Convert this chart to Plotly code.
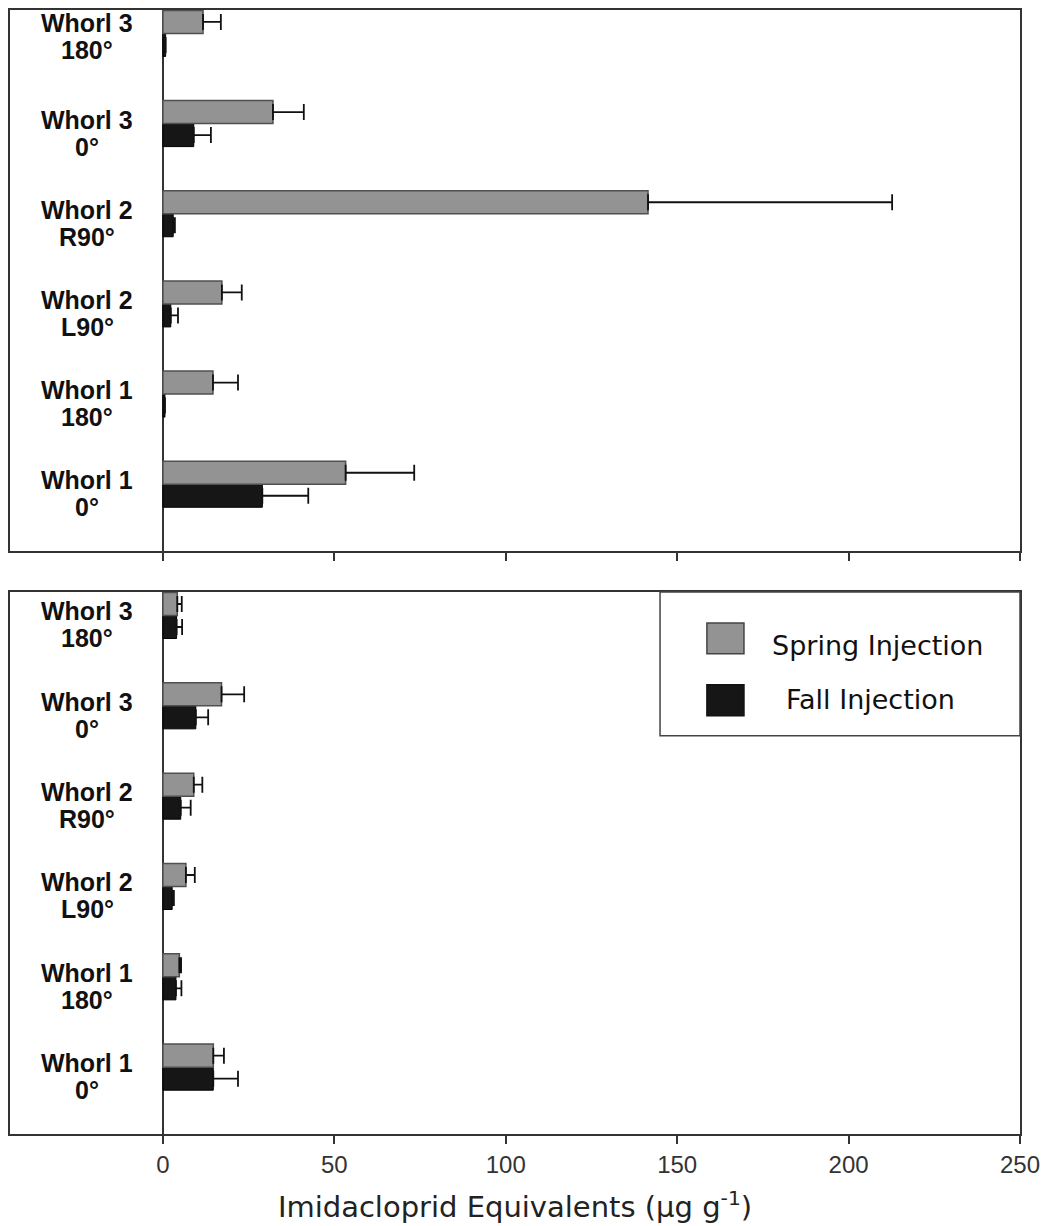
import plotly.graph_objects as go

# ---------------- data ----------------
categories = ["Whorl 1<br>0°", "Whorl 1<br>180°", "Whorl 2<br>L90°",
              "Whorl 2<br>R90°", "Whorl 3<br>0°", "Whorl 3<br>180°"]

top_spring = [53.3, 14.6, 17.2, 141.5, 32.1, 11.7]
top_spring_err = [20.0, 7.3, 5.8, 71.2, 9.0, 5.2]
top_fall = [29.0, 0.6, 2.3, 3.0, 9.0, 0.8]
top_fall_err = [13.4, 0.0, 2.1, 0.5, 5.0, 0.0]

bot_spring = [14.7, 4.8, 6.7, 9.0, 17.1, 4.2]
bot_spring_err = [3.1, 0.5, 2.6, 2.5, 6.6, 1.3]
bot_fall = [14.7, 3.8, 2.7, 5.2, 9.6, 4.0]
bot_fall_err = [7.2, 1.6, 0.5, 2.9, 3.6, 1.6]

x_ticks = [0, 50, 100, 150, 200, 250]
series_names = ["Spring Injection", "Fall Injection"]

SPRING_COLOR = "#939393"
FALL_COLOR = "#161616"
LINE = "#333333"

fig = go.Figure()


def add_panel(spring, spring_err, fall, fall_err, xa, ya):
    # fall first so it sits below spring within each group
    fig.add_trace(go.Bar(
        name=series_names[1], orientation="h", x=fall, y=categories,
        marker=dict(color=FALL_COLOR, line=dict(color="#000000", width=1)),
        error_x=dict(type="data", symmetric=False, array=fall_err,
                     arrayminus=[0] * len(fall_err), color="#111111",
                     thickness=1.8, width=8),
        xaxis=xa, yaxis=ya, showlegend=False))
    fig.add_trace(go.Bar(
        name=series_names[0], orientation="h", x=spring, y=categories,
        marker=dict(color=SPRING_COLOR, line=dict(color="#505050", width=1.5)),
        error_x=dict(type="data", symmetric=False, array=spring_err,
                     arrayminus=[0] * len(spring_err), color="#111111",
                     thickness=1.8, width=8),
        xaxis=xa, yaxis=ya, showlegend=False))


add_panel(top_spring, top_spring_err, top_fall, top_fall_err, "x", "y")
add_panel(bot_spring, bot_spring_err, bot_fall, bot_fall_err, "x2", "y2")

XR = [-44.6, 250]
YR = [-0.74, 5.26]

xcommon = dict(range=XR, tickmode="array", tickvals=x_ticks,
               ticks="outside", ticklen=8, tickwidth=2, tickcolor=LINE,
               showline=True, mirror=True, linecolor=LINE, linewidth=2,
               showgrid=False, zeroline=True, zerolinecolor=LINE,
               zerolinewidth=2, fixedrange=True)
ycommon = dict(range=YR, type="category", showticklabels=False, ticks="",
               showline=True, mirror=True, linecolor=LINE, linewidth=2,
               showgrid=False, zeroline=False, fixedrange=True)

fig.update_layout(
    width=1050, height=1226,
    margin=dict(l=10, r=30, t=8, b=92),
    paper_bgcolor="white", plot_bgcolor="white",
    barmode="group", bargap=0.49, bargroupgap=0,
    showlegend=False,
    font=dict(family="Liberation Sans, Arial, sans-serif", color="#222222"),
    xaxis=dict(**xcommon, anchor="y", domain=[0, 1], showticklabels=False),
    yaxis=dict(**ycommon, anchor="x", domain=[0.5187, 1.0]),
    xaxis2=dict(**xcommon, anchor="y2", domain=[0, 1], showticklabels=True,
                tickfont=dict(family="Liberation Sans, Arial, sans-serif",
                              size=24, color="#333333"),
                title=dict(text="Imidacloprid Equivalents (µg g<sup>-1</sup>)",
                           font=dict(family="DejaVu Sans, sans-serif", size=29,
                                     color="#222222"),
                           standoff=20)),
    yaxis2=dict(**ycommon, anchor="x2", domain=[0, 0.4822]),
)

# category labels inside each panel, left of the zero line (two lines each)
annotations = []
label_font = dict(family="Liberation Sans, Arial, sans-serif", size=25,
                  color="#111111", weight="bold")
for ya in ["y", "y2"]:
    xa = "x" if ya == "y" else "x2"
    for i, c in enumerate(categories):
        line1, line2 = c.split("<br>")
        extra = 6 if (ya == "y" and i == len(categories) - 1) else 0
        annotations.append(dict(x=-22.0, y=c, xref=xa, yref=ya, text=line1,
                                showarrow=False, align="center",
                                yshift=4 + extra, font=label_font))
        annotations.append(dict(x=-22.0, y=c, xref=xa, yref=ya, text=line2,
                                showarrow=False, align="center",
                                yshift=-23 + extra, font=label_font))

# legend (drawn in the lower panel, top-right corner)
shapes = [
    dict(type="rect", xref="paper", yref="paper", x0=0.6436, x1=1.0,
         y0=0.3544, y1=0.4822, line=dict(color="#444444", width=1.5),
         fillcolor="white", layer="above"),
    dict(type="rect", xref="paper", yref="paper", x0=0.690, x1=0.7267,
         y0=0.4272, y1=0.4547, line=dict(color="#444444", width=1.5),
         fillcolor=SPRING_COLOR, layer="above"),
    dict(type="rect", xref="paper", yref="paper", x0=0.690, x1=0.7267,
         y0=0.3721, y1=0.3996, line=dict(color="#111111", width=1.5),
         fillcolor=FALL_COLOR, layer="above"),
]
annotations.append(dict(x=0.7525, y=0.4345, xref="paper", yref="paper",
                        text=series_names[0], showarrow=False,
                        xanchor="left", yanchor="middle",
                        font=dict(family="DejaVu Sans, sans-serif", size=27,
                                  color="#111111")))
annotations.append(dict(x=0.7663, y=0.3865, xref="paper", yref="paper",
                        text=series_names[1], showarrow=False,
                        xanchor="left", yanchor="middle",
                        font=dict(family="DejaVu Sans, sans-serif", size=27,
                                  color="#111111")))

fig.update_layout(annotations=annotations, shapes=shapes)

fig.write_html("out.html")
